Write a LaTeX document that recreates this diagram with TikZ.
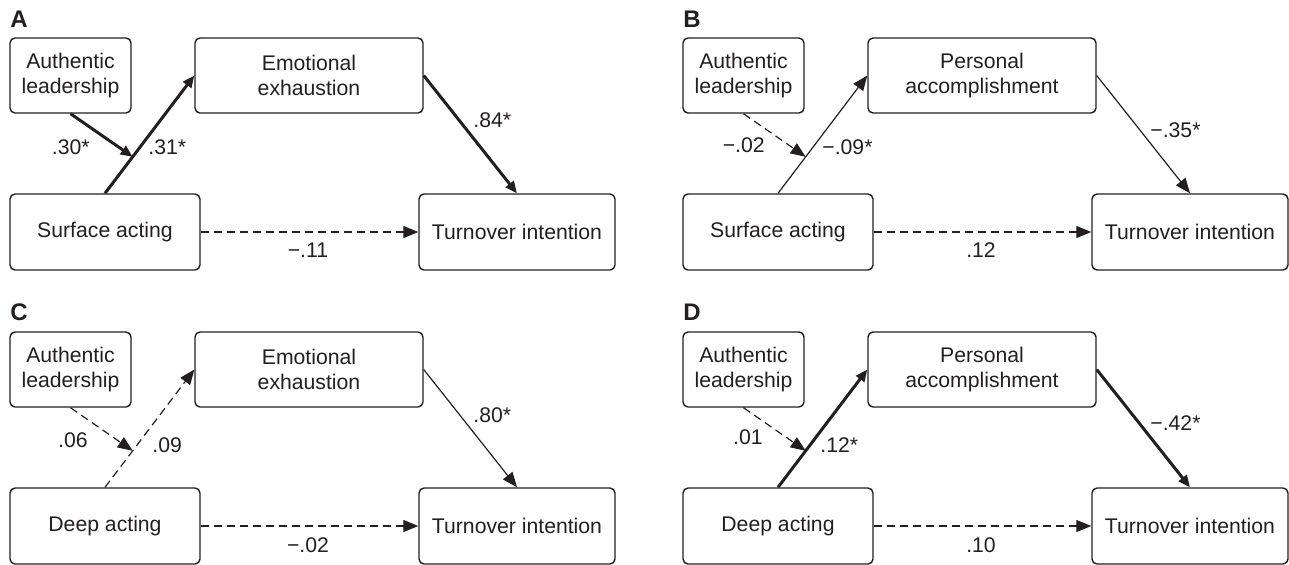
\documentclass[tikz,border=0pt]{standalone}
\usepackage{fontspec}
\setmainfont{Liberation Sans}
\usetikzlibrary{arrows.meta}
\definecolor{ink}{HTML}{231F20}
\tikzset{
  box/.style={draw=ink, line width=0.7pt, rounded corners=2.5pt, align=center, inner sep=0pt,
    font=\fontsize{10.6}{12.5}\selectfont, text=ink},
  lab/.style={font=\fontsize{10.6}{12.5}\selectfont, text=ink, inner sep=0pt},
  panelletter/.style={font=\fontsize{12}{14}\selectfont\bfseries, text=ink, inner sep=0pt, anchor=west},
  thinarr/.style={draw=ink, line width=0.6pt, -{Triangle[length=7.5pt,width=6pt]}},
  thickarr/.style={draw=ink, line width=1.5pt, -{Triangle[length=6pt,width=5pt]}},
  dasharr/.style={thinarr, dash pattern=on 4pt off 2.5pt},
  authbox/.style={box, minimum width=60.5pt, minimum height=37.5pt},
  medbox/.style={box, minimum width=114pt, minimum height=37.5pt},
  ivbox/.style={box, minimum width=95pt, minimum height=38pt},
  dvbox/.style={box, minimum width=98pt, minimum height=38pt},
}
\begin{document}
\begin{tikzpicture}[x=0.5pt, y=-0.5pt]
\useasboundingbox (0,0) rectangle (1289,564);

% ---------- Panel A ----------
\begin{scope}
\node[panelletter] (Alet) at (10,19.5) {A};
\node[authbox] (Aauth) at (70.5,75.5) {Authentic\\leadership};
\node[medbox] (Amed) at (309,75.5) {Emotional\\exhaustion};
\node[ivbox] (Aiv) at (105,232) {Surface acting};
\node[dvbox] (Adv) at (517,232) {Turnover intention};
\draw[thickarr] (Aiv.north) -- coordinate[pos=0.31] (Am) (Amed.west);
\draw[thickarr] (Aauth.south) -- (Am);
\draw[thickarr] (Amed.east) -- (Adv.north);
\draw[dasharr] (Aiv.east) -- (Adv.west);
\node[lab, anchor=east] (Al1) at (90,147) {.30*};
\node[lab, anchor=west] (Al2) at (148,147) {.31*};
\node[lab, anchor=west] (Al3) at (473,120) {.84*};
\node[lab] (Al4) at (308,250) {−.11};
\end{scope}

% ---------- Panel B ----------
\begin{scope}[shift={(673,0)}]
\node[panelletter] (Blet) at (10,19.5) {B};
\node[authbox] (Bauth) at (70.5,75.5) {Authentic\\leadership};
\node[medbox] (Bmed) at (309,75.5) {Personal\\accomplishment};
\node[ivbox] (Biv) at (105,232) {Surface acting};
\node[dvbox] (Bdv) at (517,232) {Turnover intention};
\draw[thinarr] (Biv.north) -- coordinate[pos=0.31] (Bm) (Bmed.west);
\draw[dasharr] (Bauth.south) -- (Bm);
\draw[thinarr] (Bmed.east) -- (Bdv.north);
\draw[dasharr] (Biv.east) -- (Bdv.west);
\node[lab, anchor=east] (Bl1) at (92,145) {−.02};
\node[lab, anchor=west] (Bl2) at (149,147) {−.09*};
\node[lab, anchor=west] (Bl3) at (477,130) {−.35*};
\node[lab] (Bl4) at (308,250) {.12};
\end{scope}

% ---------- Panel C ----------
\begin{scope}[shift={(0,294)}]
\node[panelletter] (Clet) at (10,18.5) {C};
\node[authbox] (Cauth) at (70.5,75.5) {Authentic\\leadership};
\node[medbox] (Cmed) at (309,75.5) {Emotional\\exhaustion};
\node[ivbox] (Civ) at (105,232) {Deep acting};
\node[dvbox] (Cdv) at (517,232) {Turnover intention};
\draw[dasharr] (Civ.north) -- coordinate[pos=0.31] (Cm) (Cmed.west);
\draw[dasharr] (Cauth.south) -- (Cm);
\draw[thinarr] (Cmed.east) -- (Cdv.north);
\draw[dasharr] (Civ.east) -- (Cdv.west);
\node[lab, anchor=east] (Cl1) at (88,146) {.06};
\node[lab, anchor=west] (Cl2) at (152,151) {.09};
\node[lab, anchor=west] (Cl3) at (473,121) {.80*};
\node[lab] (Cl4) at (308,251) {−.02};
\end{scope}

% ---------- Panel D ----------
\begin{scope}[shift={(673,294)}]
\node[panelletter] (Dlet) at (10,18.5) {D};
\node[authbox] (Dauth) at (70.5,75.5) {Authentic\\leadership};
\node[medbox] (Dmed) at (309,75.5) {Personal\\accomplishment};
\node[ivbox] (Div) at (105,232) {Deep acting};
\node[dvbox] (Ddv) at (517,232) {Turnover intention};
\draw[thickarr] (Div.north) -- coordinate[pos=0.31] (Dm) (Dmed.west);
\draw[dasharr] (Dauth.south) -- (Dm);
\draw[thickarr] (Dmed.east) -- (Ddv.north);
\draw[dasharr] (Div.east) -- (Ddv.west);
\node[lab, anchor=east] (Dl1) at (90,143) {.01};
\node[lab, anchor=west] (Dl2) at (147,151) {.12*};
\node[lab, anchor=west] (Dl3) at (477,129) {−.42*};
\node[lab] (Dl4) at (308,251) {.10};
\end{scope}
\end{tikzpicture}
\end{document}
